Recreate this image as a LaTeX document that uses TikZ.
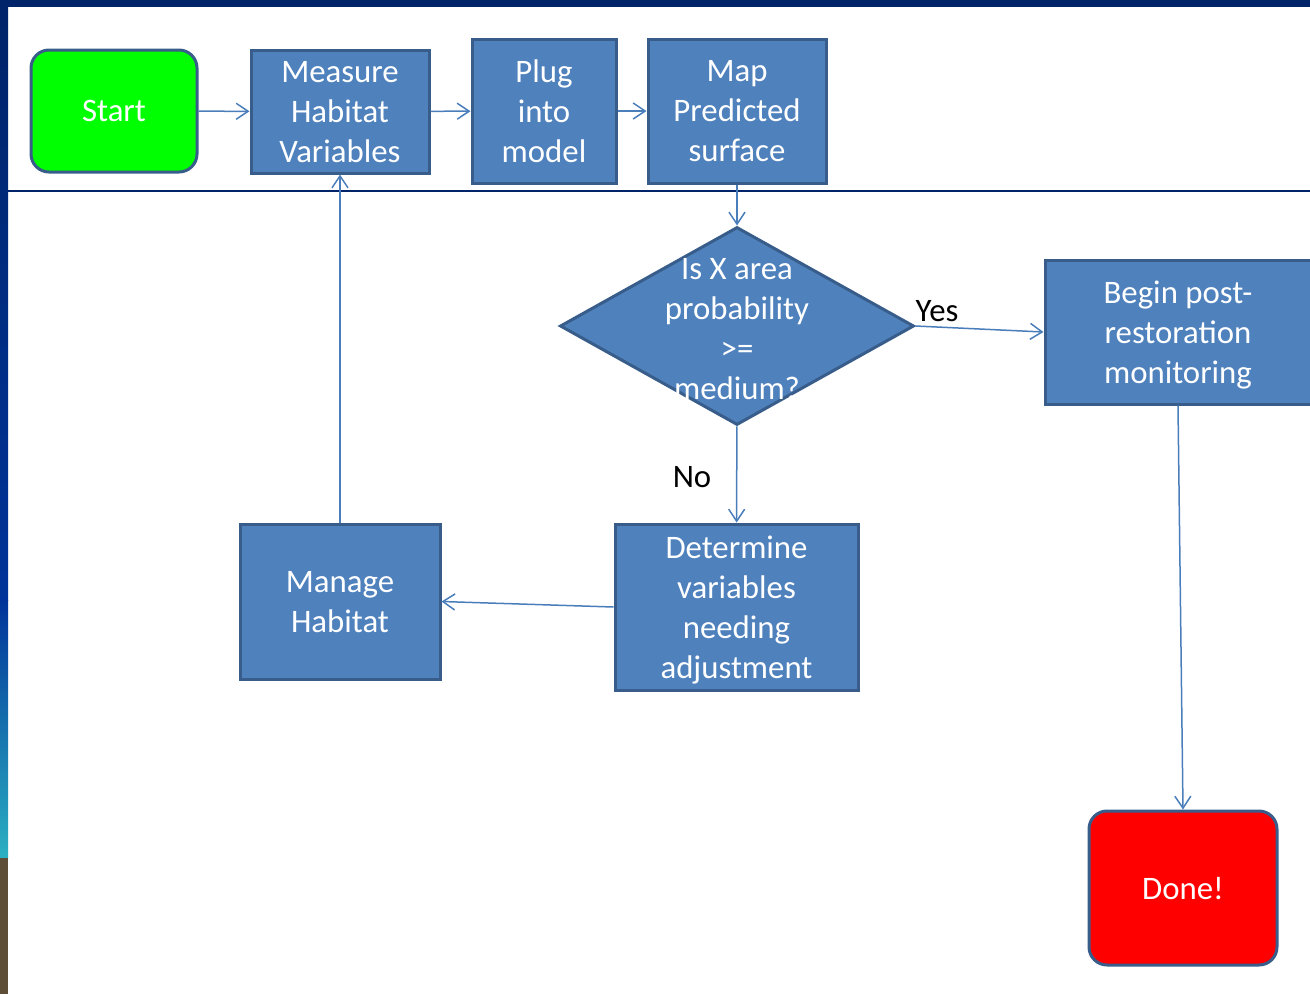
\documentclass[tikz,border=0pt]{standalone}
\usepackage{fontspec}
\setmainfont{Carlito}
\usetikzlibrary{arrows.meta,shapes.geometric}
\definecolor{boxfill}{HTML}{4F81BD}
\definecolor{boxline}{HTML}{385D8A}
\definecolor{linkcol}{HTML}{4A7EBB}
\definecolor{navy}{HTML}{002469}
\definecolor{midblue}{HTML}{003399}
\definecolor{teal}{HTML}{2BB0C2}
\definecolor{brown}{HTML}{5E4E38}
\definecolor{startgreen}{HTML}{00FF00}
\definecolor{donered}{HTML}{FF0000}
\begin{document}
\begin{tikzpicture}[x=1pt,y=-1pt,
    box/.style={draw=boxline,line width=3pt,fill=boxfill,text=white,inner sep=0pt,
      align=center,font=\fontsize{32.8}{40}\selectfont,text depth=-4pt},
    roundbox/.style={box,rounded corners=18pt},
    decision/.style={diamond,draw=boxline,line width=3pt,fill=boxfill,inner sep=0pt,
      minimum width=354pt,minimum height=198pt},
    qtext/.style={text=white,align=center,inner sep=0pt,font=\fontsize{32.8}{40}\selectfont},
    lbl/.style={text=black,inner sep=0pt,font=\fontsize{32.8}{40}\selectfont},
    link/.style={draw=linkcol,line width=1.5pt,-{Straight Barb[length=12pt,width=16pt]}}]
  \useasboundingbox (0,0) rectangle (1310,994);
  % slide background
  \fill[navy] (0,0) rectangle (1310,7);
  \shade[top color=navy,bottom color=midblue] (0,7) rectangle (8,600);
  \shade[top color=midblue,bottom color=teal] (0,600) rectangle (8,858);
  \fill[brown] (0,858) rectangle (8,994);
  \draw[navy,line width=1.2pt] (8,191) -- (1310,191);
  \draw
    (114,111) node[roundbox,fill=startgreen,minimum width=166pt,minimum height=122pt] (0){Start}
    (340,111.5) node[box,minimum width=178pt,minimum height=123pt] (1){Measure\\Habitat\\Variables}
    (544,111) node[box,minimum width=144pt,minimum height=144pt] (2){Plug\\into\\model}
    (737,111) node[box,minimum width=178pt,minimum height=144pt] (3){Map\\Predicted\\surface}
    (737,326) node[decision] (4){}
    (1178,332) node[box,minimum width=266pt,minimum height=144pt] (5){Begin post-\\restoration\\monitoring}
    (736.5,607) node[box,minimum width=243pt,minimum height=166pt] (6){Determine\\variables\\needing\\adjustment}
    (340,601.5) node[box,minimum width=200pt,minimum height=155pt] (7){Manage\\Habitat}
    (1183,888) node[roundbox,fill=donered,minimum width=188pt,minimum height=154pt] (8){Done!};
  \node[qtext] (4q) at (737,329) {Is X area\\probability\\>=\\medium?};
  \node[lbl] (yes) at (937,311) {Yes};
  \node[lbl] (no) at (692,477) {No};
  \begin{scope}[link]
    \draw (0) to (1);
    \draw (1) to (2);
    \draw (2) to (3);
    \draw (3) to (4);
    \draw (4.east) to (5.west);
    \draw (4) to (6);
    \draw (6.west) to (7.east);
    \draw (7) to (1);
    \draw (5.south) to (8.north);
  \end{scope}
\end{tikzpicture}
\end{document}
